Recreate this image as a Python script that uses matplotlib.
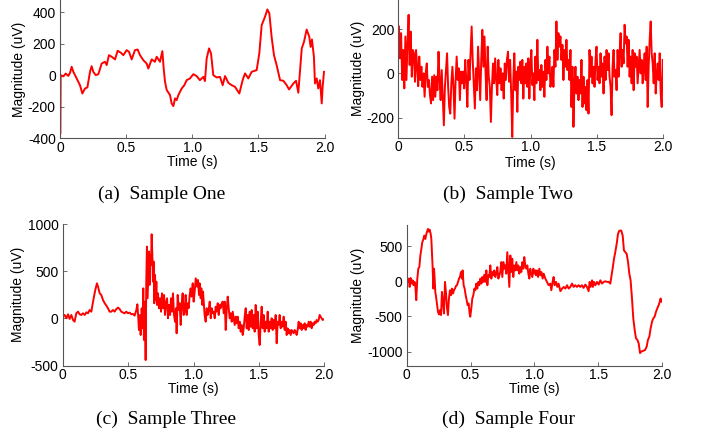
import numpy as np
import matplotlib.pyplot as plt

# ---------------- data ----------------
# (a) Sample One
t_one = [0.003, 0.005, 0.025, 0.043, 0.063, 0.076, 0.088, 0.101, 0.126, 0.151,
         0.169, 0.189, 0.207, 0.227, 0.239, 0.252, 0.270, 0.290, 0.315, 0.340,
         0.353, 0.370, 0.391, 0.416, 0.436, 0.461, 0.479, 0.504, 0.522, 0.542,
         0.567, 0.587, 0.605, 0.630, 0.655, 0.668, 0.693, 0.718, 0.731, 0.756,
         0.774, 0.784, 0.794, 0.807, 0.832, 0.844, 0.857, 0.870, 0.882, 0.895,
         0.920, 0.940, 0.958, 0.983, 1.008, 1.033, 1.058, 1.084, 1.096, 1.109,
         1.127, 1.142, 1.159, 1.185, 1.210, 1.230, 1.248, 1.273, 1.298, 1.323,
         1.356, 1.381, 1.399, 1.424, 1.449, 1.487, 1.507, 1.525, 1.550, 1.568,
         1.583, 1.600, 1.618, 1.638, 1.664, 1.689, 1.714, 1.732, 1.765, 1.785,
         1.802, 1.828, 1.845, 1.865, 1.885, 1.895, 1.905, 1.920, 1.928, 1.941,
         1.953, 1.966, 1.979, 1.986, 1.996]
mag_one = [-370, 0, -8, 10, -5, 15, 53, 21, -21, -64,
           -117, -85, -78, 21, 57, 21, 0, 6, 74, 85,
           64, 127, 117, 100, 155, 142, 127, 159, 148, 100,
           159, 163, 127, 95, 74, 42, 100, 85, 117, 85,
           153, 42, -42, -95, -127, -180, -197, -148, -159, -127,
           -85, -64, -32, -21, 6, -6, -32, -11, -38, 106,
           170, 138, 0, -15, -11, -64, -6, -49, -64, -74,
           -117, -32, 11, -21, 21, 32, 138, 318, 371, 418,
           392, 244, 127, 64, -32, -36, -64, -91, -53, -36,
           -112, 170, 212, 290, 244, 180, 227, 117, -53, -21,
           -85, -32, -180, -74, 21]

# (b) Sample Two, first part evenly sampled 0.005-0.862 s (ends on the deep dip)
mag_two_a = [212, 68, 182, -30, 106, -68, 167, -30, 136, 265,
             38, 189, -15, 106, 91, -38, 106, 30, -58, 76,
             -30, 30, -61, 0, -106, 0, 45, -61, -30, -98,
             -136, -15, -121, -8, -106, -15, -76, 98, -30, -121,
             15, -106, -235, -61, 15, 91, -61, -152, -182, -45,
             30, -61, -205, -30, 76, -30, 23, -121, 8, -45,
             8, -68, 61, -30, -152, 61, -30, 91, 212, 61,
             -45, -159, 23, -76, 121, 0, -121, 61, 197, 30,
             167, 8, -121, 121, -15, -61, -220, -61, 45, -45,
             68, -30, -98, 61, -45, 23, -76, 0, -114, 45,
             -30, 61, 98, -38, 61, -91, -288]
# (b) second part, evenly sampled 0.870-2.0 s
mag_two_b = [-30, 91, -76,
             8, -174, 30, -30, 53, -45, 61, -114, 30, -45,
             45, -61, 68, -114, 30, 106, -53, 0, -121, 76,
             -45, 152, -30, 15, -76, 38, -61, 8, -106, 61,
             -30, 121, 0, 76, -61, -30, 30, -61, 106, 30,
             235, 61, 182, 121, 167, 61, 129, -30, 106, 30,
             152, 15, 61, -30, 106, -152, 30, -242, -45, 30,
             -91, -15, -121, -30, -91, 61, -152, -15, -136, -61,
             -167, -30, -182, 106, -15, 76, -45, 30, -61, 61,
             121, -30, 30, -45, 91, -15, 45, -91, 76, -30,
             106, 15, 91, -15, -61, -189, 30, 106, -15, 15,
             -76, 106, -15, 91, 182, 30, 106, 45, 220, 136,
             167, 30, 152, -15, 76, -45, 106, -76, 91, 30,
             76, -45, 30, 106, 0, 61, -45, 30, 91, -30,
             121, -152, 30, 152, 235, 91, 45, -45, 91, -91,
             0, 45, -30, 91, -91, -152, 61]

# (c) Sample Three, first second read point by point
t_three = [0.002, 0.015, 0.028, 0.041, 0.053, 0.066, 0.079, 0.091, 0.104, 0.117,
           0.130, 0.142, 0.155, 0.168, 0.181, 0.193, 0.206, 0.219, 0.232,
           0.249, 0.262, 0.270,
           0.283, 0.295, 0.308, 0.321, 0.334, 0.346, 0.359, 0.372, 0.385, 0.397,
           0.410, 0.423, 0.435, 0.448, 0.461, 0.474, 0.486, 0.499, 0.512, 0.525,
           0.537, 0.550, 0.563,
           0.571, 0.578, 0.583, 0.591, 0.596, 0.604, 0.611, 0.616, 0.621, 0.629,
           0.634, 0.639, 0.644, 0.649, 0.655, 0.660, 0.665, 0.670, 0.675, 0.680,
           0.685, 0.690, 0.695, 0.700, 0.706, 0.711, 0.716, 0.721,
           0.728, 0.736, 0.744, 0.752, 0.759, 0.767, 0.775, 0.782, 0.790, 0.798,
           0.805, 0.813, 0.821, 0.828, 0.836, 0.843, 0.851, 0.859, 0.866, 0.871,
           0.879, 0.887, 0.894, 0.902, 0.909, 0.917, 0.925, 0.932, 0.940, 0.948,
           0.955, 0.963, 0.971, 0.978, 0.986, 0.994, 1.001, 1.009,
           1.017, 1.027, 1.034, 1.042, 1.047, 1.055, 1.060, 1.068, 1.073, 1.080,
           1.085, 1.093, 1.101, 1.108, 1.116]
mag_three = [19, 37, 2, 44, -5, 37, -16, -34, 55, 72,
             44, 37, 55, 37, 65, 55, 90, 72, 178,
             302, 372, 337,
             266, 249, 196, 161, 136, 108, 72, 72, 90, 72,
             100, 115, 100, 72, 62, 55, 72, 55, 62, 44,
             48, 30, 90,
             150, 2, -122, 37, -175, 108, -104, 319, -228, 178,
             -440, 390, 761, 214, 496, 708, 355, 673, 567, 891,
             690, 390, 602, 161, 461, 196, 390, 143,
             266, 108, 214, 72, 266, 108, 249, 37, 161, 214,
             2, 143, 37, 214, 72, 266, 37, -34, 108, -157,
             249, 90, 161, -69, 143, 266, 37, 72, 249, 37,
             161, 108, 249, 319, 231, 372, 178, 284,
             425, 337, 408, 249, 372, 214, 319, 143, 284, 143,
             37, -34, 108, 37, 90]
# (c) rest, evenly sampled from 1.124 s to 1.995 s
mag_three_tail = [178, 2, 108, 55, 72, 2, 125, 72, 161, 37,
                  143, 108, 161, 178, 55, 178, -122, 90, 231, 108,
                  2, 55, -34, 72, 2, -69, 19, -51, 19, -104,
                  -34, -140, -69, -175, -104, 19, 108, -104, 37, -122,
                  72, -87, 90, -104, 37, -140, 143, -104, 72, -175,
                  -281, -34, 125, -104, 37, -140, -34, -104, 72, -140,
                  -34, -104, 2, -122, -16, -104, 37, -263, -34, -69,
                  37, -104, -34, -87, 19, -122, -34, -175, -104, -157,
                  -122, -175, -122, -140, -157, -122, -140, -175, -122, -34,
                  -104, -51, -122, -69, -104, -51, -122, -69, -87, -34,
                  -87, -34, -104, -51, -69, -34, -51, -16, -34, -16,
                  37, 19, 2, -16, -10]

# (d) Sample Four
t_four = [0.002, 0.010, 0.016, 0.023, 0.031, 0.039, 0.047, 0.054, 0.062, 0.068,
          0.075, 0.083, 0.091, 0.099, 0.107, 0.115, 0.122, 0.130, 0.138, 0.146,
          0.154, 0.162, 0.167, 0.172, 0.180, 0.188, 0.193, 0.198, 0.203, 0.209,
          0.214, 0.219, 0.224, 0.230, 0.237, 0.245, 0.253, 0.261, 0.269, 0.276,
          0.284, 0.292, 0.300, 0.308, 0.316, 0.323, 0.331, 0.339, 0.347, 0.355,
          0.363, 0.370, 0.378, 0.386, 0.394, 0.402, 0.410, 0.417, 0.425, 0.433,
          0.438, 0.446, 0.454, 0.462, 0.470, 0.477, 0.485, 0.493, 0.498, 0.506,
          0.514, 0.522, 0.530, 0.538, 0.545, 0.553, 0.561, 0.569, 0.577, 0.585,
          0.592, 0.600, 0.608, 0.616, 0.624, 0.632, 0.639, 0.647, 0.655, 0.663,
          0.671, 0.679, 0.686, 0.694, 0.702, 0.710, 0.718, 0.726, 0.733, 0.741,
          0.749, 0.757, 0.765, 0.773, 0.780, 0.788, 0.796, 0.804, 0.812, 0.820,
          0.827, 0.835, 0.843, 0.851, 0.859, 0.867, 0.874, 0.882, 0.890, 0.898,
          0.906, 0.914, 0.921, 0.929, 0.937, 0.945, 0.953, 0.961, 0.968, 0.976,
          0.984, 0.992, 1.000, 1.008,
          1.013, 1.021, 1.029, 1.039, 1.047, 1.055, 1.065, 1.073, 1.086, 1.099,
          1.112, 1.125, 1.133, 1.143, 1.151, 1.159, 1.170, 1.180, 1.190, 1.204,
          1.217, 1.230, 1.243, 1.256, 1.269, 1.282, 1.295, 1.308, 1.321, 1.334,
          1.347, 1.360, 1.373, 1.386, 1.399, 1.412, 1.425, 1.433, 1.441, 1.452,
          1.459, 1.467, 1.478, 1.491, 1.504, 1.517, 1.530, 1.543, 1.556, 1.569,
          1.582, 1.595, 1.603, 1.613, 1.624, 1.634, 1.647, 1.655, 1.666, 1.681,
          1.692, 1.702, 1.713, 1.723, 1.734, 1.744, 1.754, 1.765, 1.775, 1.786,
          1.796, 1.807, 1.817, 1.828, 1.838, 1.854, 1.869, 1.880, 1.890, 1.901,
          1.911, 1.922, 1.932, 1.942, 1.953, 1.963, 1.974, 1.982, 1.989, 1.995,
          2.000]
mag_four = [61, -9, 38, -80, 47, -33, 14, -56, -9, -80,
            -268, 38, 179, 202, 367, 461, 555, 593, 650, 602,
            673, 720, 744, 706, 734, 673, 602, 414, 202, -104,
            179, 38, -151, -221, -315, -433, -471, -410, -480, -151,
            -292, -457, -9, -174, -386, -480, -245, -127, -198, -104,
            -174, -127, -104, -66, -56, -9, 38, 61, 132, 38,
            155, -56, -104, -198, -268, -339, -315, -457, -504, -386,
            -245, -198, -104, -127, -33, -104, -9, -56, 38, -33,
            61, -9, 94, -9, 155, -56, 85, 61, 226, 38,
            132, 85, 155, 61, 108, 202, 38, 85, 132, 273,
            61, 273, 179, 226, 108, 414, 179, -80, 367, 132,
            320, 61, 226, 155, 273, 155, 226, 108, 202, 132,
            273, 179, 344, 226, 179, 226, 108, 38, 179, 108,
            61, 179, 108, 155,
            85, 155, 61, 179, 85, 132, 38, 108, 38, -9,
            -56, -33, -127, -9, 61, -56, -9, -80, -33, -141,
            -104, -80, -104, -56, -104, -80, -33, -80, -56, -80,
            -56, -80, -56, -94, -47, -80, -141, -9, -80, 14,
            -80, -9, -56, -9, -47, 14, -33, -9, 0, -9,
            -9, -33, 61, 179, 320, 414, 555, 673, 720, 720,
            650, 438, 414, 391, 273, 108, 14, -245, -527, -692,
            -810, -833, -880, -1021, -998, -988, -974, -927, -833, -786,
            -668, -574, -527, -504, -433, -386, -339, -292, -245, -292,
            -268]

x_ticks = [0, 0.5, 1.0, 1.5, 2.0]
x_ticklabels = ['0', '0.5', '1.0', '1.5', '2.0']
y_ticks = [[-400, -200, 0, 200, 400], [-200, 0, 200],
           [-500, 0, 500, 1000], [-1000, -500, 0, 500]]
captions = ['(a)  Sample One', '(b)  Sample Two',
            '(c)  Sample Three', '(d)  Sample Four']

# ---------------- figure ----------------
plt.rcParams['font.family'] = ['Liberation Sans', 'DejaVu Sans']
plt.rcParams['axes.unicode_minus'] = False

W, H = 701, 436
fig = plt.figure(figsize=(W / 100, H / 100), dpi=100)

def make_axes(left, top, right, bottom):
    # box given in pixels from the top-left corner
    return fig.add_axes([left / W, 1 - bottom / H, (right - left) / W, (bottom - top) / H])

axes = [make_axes(60, 0, 324.5, 138),
        make_axes(398.3, 0, 662.7, 137.7),
        make_axes(62.7, 224, 324.3, 365.7),
        make_axes(406.7, 225, 662, 365.7)]

t_two = list(np.linspace(0.005, 0.862, len(mag_two_a))) + \
        list(np.linspace(0.870, 2.0, len(mag_two_b)))
t_three_all = list(t_three) + list(np.linspace(1.124, 1.995, len(mag_three_tail)))

series = [(t_one, mag_one),
          (t_two, mag_two_a + mag_two_b),
          (t_three_all, mag_three + mag_three_tail),
          (t_four, mag_four)]
ylims = [(-400, 478), (-291, 332), (-500, 1000), (-1200, 800)]
ylab_x = [-0.128, -0.126, -0.144, -0.163]
xlab_y = [-0.123, -0.133, -0.115, -0.116]

for i, ax in enumerate(axes):
    t, v = series[i]
    ax.plot(t, v, color='#ff0000', linewidth=1.4)
    ax.set_xlim(0, 2.0)
    ax.set_ylim(*ylims[i])
    ax.set_xticks(x_ticks)
    ax.set_xticklabels(x_ticklabels)
    ax.set_yticks(y_ticks[i])
    ax.spines['top'].set_visible(False)
    ax.spines['right'].set_visible(False)
    for s in ['left', 'bottom']:
        ax.spines[s].set_color('#555555')
        ax.spines[s].set_linewidth(0.8)
    ax.tick_params(direction='in', length=3, width=0.6, color='#555555', labelsize=10)
    ax.tick_params(axis='x', pad=2)
    ax.tick_params(axis='y', pad=3)
    ax.set_xlabel('Time (s)', fontsize=10)
    ax.set_ylabel('Magnitude (uV)', fontsize=10)
    ax.xaxis.set_label_coords(0.5, xlab_y[i])
    ax.yaxis.set_label_coords(ylab_x[i], 0.5)

cap_pos = [(162, 194), (508, 194), (166, 419), (508, 419)]
for (cx, cy), text in zip(cap_pos, captions):
    fig.text(cx / W, 1 - cy / H, text, ha='center', va='center',
             fontsize=14, family='Liberation Serif')

fig.savefig('out.png', dpi=100)
